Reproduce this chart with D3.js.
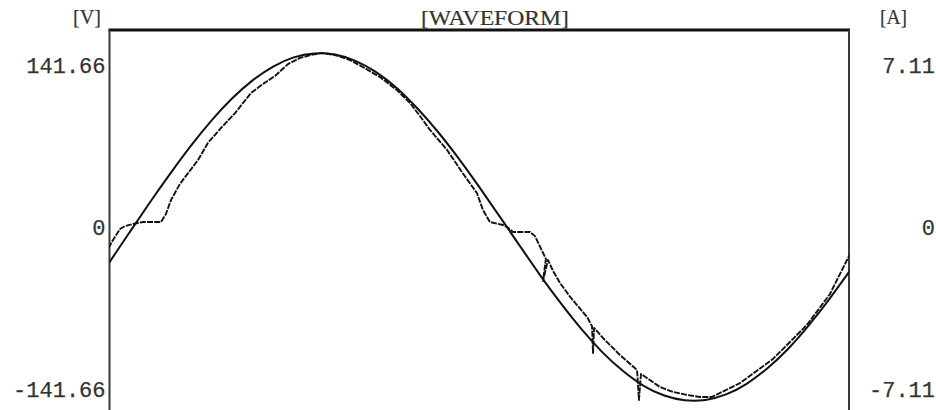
<!DOCTYPE html>
<html>
<head>
<meta charset="utf-8">
<script src="https://cdn.jsdelivr.net/npm/d3@7/dist/d3.min.js"></script>
<style>
  html, body { margin: 0; padding: 0; background: #fff; }
  svg { display: block; }
</style>
</head>
<body>
<svg id="chart" width="936" height="410"></svg>
<script>
// ---- data ----
const phaseDeg = [0,10,20,30,40,50,60,70,80,90,100,110,120,130,140,150,160,170,180,
                  190,200,210,220,230,240,250,260,270,280,290,300,310,320,330,340,350,360];
const voltage = [-32,-5.3,21.2,46.7,70.9,93,112.3,128.2,140.3,148.3,151.8,150.8,145.3,135.4,
                 121.6,103.8,83.3,60.2,35.3,9.3,-16.9,-42.9,-67.3,-89.8,-109.6,-126,-138.9,
                 -147.4,-151.5,-151.2,-146.4,-137.1,-123.7,-106.9,-86.5,-63.5,-38.8];

const currentDeg = [0,2.2,5.6,8.0,11.9,16.8,25.5,27.9,30.4,34.7,43.5,48.3,55.1,61.5,69.2,75.1,
                    80.9,87.2,93.0,98.4,103.7,110.0,117.3,123.6,131.9,140.1,146.5,151.3,156.2,
                    164.5,171.7,179.0,181.9,185.3,191.6,193.6,196.5,204.8,207.2,212.5,211.1,
                    213.5,216.0,219.4,224.3,232.5,234.9,235.4,235.9,240.2,248.5,256.8,257.7,
                    258.7,267.9,274.2,281.0,287.3,293.2,306.8,322.8,339.3,350.5,360];
const currentAmp = [-0.92,-0.57,-0.09,0.04,0.13,0.22,0.22,0.57,1.19,1.89,2.94,3.69,4.39,5.00,5.88,
                    6.28,6.63,7.15,7.42,7.55,7.64,7.55,7.33,7.02,6.58,6.01,5.44,4.87,4.26,3.38,
                    2.41,1.49,0.75,0.22,0.09,0.00,-0.22,-0.22,-0.40,-1.40,-2.37,-1.45,-1.93,
                    -2.46,-3.07,-3.95,-4.35,-5.53,-4.43,-4.87,-5.62,-6.28,-7.59,-6.45,-7.02,
                    -7.24,-7.37,-7.46,-7.46,-6.85,-5.79,-4.30,-2.94,-1.23];

const voltTicks = [141.66, 0, -141.66];
const ampTicks = [7.11, 0, -7.11];
const voltUnit = "[V]";
const ampUnit = "[A]";
const chartTitle = "[WAVEFORM]";

// ---- layout ----
const plotL = 109.5, plotR = 849, plotT = 30, plotB = 410;
const svg = d3.select("#chart");

const x = d3.scaleLinear().domain([0, 360]).range([108.5, 849.5]);
const yV = d3.scaleLinear().domain([-141.66, 141.66]).range([389, 65]);
const yA = d3.scaleLinear().domain([-7.11, 7.11]).range([389, 65]);

svg.append("defs").append("clipPath").attr("id", "clip")
  .append("rect").attr("x", plotL).attr("y", plotT).attr("width", plotR - plotL).attr("height", plotB - plotT);

const ink = "#111";
const textInk = "#333";
const monoFont = "'Liberation Mono', 'DejaVu Sans Mono', monospace";
const serifFont = "'Liberation Serif', 'DejaVu Serif', serif";

// frame: thick top line, left and right verticals
svg.append("line").attr("x1", plotL - 1).attr("x2", plotR + 1).attr("y1", plotT).attr("y2", plotT)
  .attr("stroke", ink).attr("stroke-width", 3);
svg.append("line").attr("x1", plotL).attr("x2", plotL).attr("y1", plotT).attr("y2", plotB)
  .attr("stroke", "#3a3a3a").attr("stroke-width", 2);
svg.append("line").attr("x1", plotR).attr("x2", plotR).attr("y1", plotT).attr("y2", plotB)
  .attr("stroke", "#3a3a3a").attr("stroke-width", 2);

const fmt = d => d === 0 ? "0" : d3.format(".2f")(d).replace("\u2212", "-");

// axes (labels only)
const axL = svg.append("g").attr("transform", `translate(${plotL},0)`)
  .call(d3.axisLeft(yV).tickValues(voltTicks).tickSize(0).tickPadding(4).tickFormat(fmt));
axL.select(".domain").remove();
axL.selectAll("text").attr("font-family", monoFont).attr("font-size", 22)
  .attr("fill", textInk).attr("stroke", textInk).attr("stroke-width", 0.25).attr("dy", "0.35em");

const axR = svg.append("g").attr("transform", `translate(${plotR},0)`)
  .call(d3.axisRight(yA).tickValues(ampTicks).tickSize(0).tickPadding(0).tickFormat(fmt));
axR.select(".domain").remove();
axR.selectAll("text").attr("font-family", monoFont).attr("font-size", 22)
  .attr("fill", textInk).attr("stroke", textInk).attr("stroke-width", 0.25).attr("dy", "0.35em")
  .attr("text-anchor", "end").attr("x", 935 - plotR);

// units and title
svg.append("text").attr("x", 101).attr("y", 24).attr("text-anchor", "end")
  .attr("font-family", serifFont).attr("font-size", 21).attr("fill", textInk)
  .attr("stroke", textInk).attr("stroke-width", 0.2)
  .attr("textLength", 28).attr("lengthAdjust", "spacingAndGlyphs").text(voltUnit);
svg.append("text").attr("x", 880).attr("y", 24).attr("text-anchor", "start")
  .attr("font-family", serifFont).attr("font-size", 21).attr("fill", textInk)
  .attr("stroke", textInk).attr("stroke-width", 0.2)
  .attr("textLength", 27).attr("lengthAdjust", "spacingAndGlyphs").text(ampUnit);
svg.append("text").attr("x", 421).attr("y", 25).attr("text-anchor", "start")
  .attr("font-family", serifFont).attr("font-size", 22).attr("fill", textInk)
  .attr("stroke", textInk).attr("stroke-width", 0.2)
  .attr("textLength", 148).attr("lengthAdjust", "spacingAndGlyphs").text(chartTitle);

// curves
const plot = svg.append("g").attr("clip-path", "url(#clip)");

const vData = phaseDeg.map((d, i) => [d, voltage[i]]);
const vLine = d3.line().x(d => x(d[0])).y(d => yV(d[1])).curve(d3.curveNatural);
plot.append("path").datum(vData).attr("d", vLine)
  .attr("fill", "none").attr("stroke", ink).attr("stroke-width", 2);

const aData = currentDeg.map((d, i) => [d, currentAmp[i]]);
const aLine = d3.line().x(d => x(d[0])).y(d => yA(d[1])).curve(d3.curveLinear);
plot.append("path").datum(aData).attr("d", aLine)
  .attr("fill", "none").attr("stroke", ink).attr("stroke-width", 1.9)
  .attr("stroke-dasharray", "6 1.2").attr("stroke-linejoin", "round");
</script>
</body>
</html>
